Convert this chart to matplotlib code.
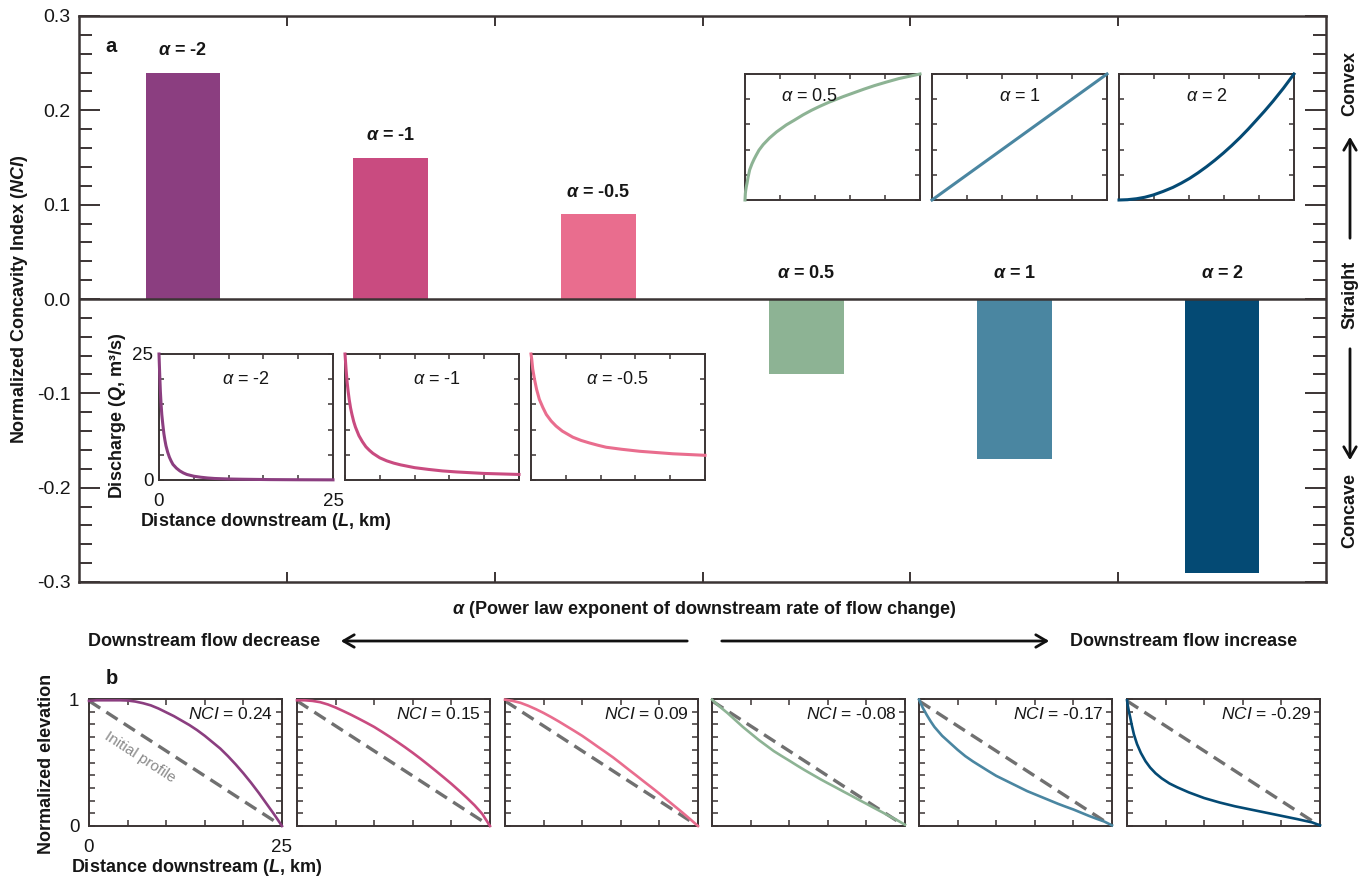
import matplotlib
matplotlib.use("Agg")
import matplotlib.pyplot as plt
from matplotlib.patches import FancyArrowPatch
from matplotlib.ticker import MultipleLocator, FixedLocator, FixedFormatter

plt.rcParams.update({
    "font.family": ["Liberation Sans", "DejaVu Sans"],
    "mathtext.fontset": "custom",
    "mathtext.rm": "Liberation Sans",
    "mathtext.it": "Liberation Sans:italic",
    "mathtext.bf": "Liberation Sans:bold",
    "mathtext.bfit": "Liberation Sans:italic:bold",
    "axes.unicode_minus": False,
})

# ---------------------------------------------------------------- data
alpha_labels = ["-2", "-1", "-0.5", "0.5", "1", "2"]
nci_values = [0.24, 0.15, 0.09, -0.08, -0.17, -0.29]
nci_labels = ["0.24", "0.15", "0.09", "-0.08", "-0.17", "-0.29"]
bar_colors = ["#8b3e80", "#c94b80", "#e96d8e", "#8db394", "#4a86a1", "#044a74"]
ytick_values = [-0.3, -0.2, -0.1, 0.0, 0.1, 0.2, 0.3]
ytick_labels = ["-0.3", "-0.2", "-0.1", "0.0", "0.1", "0.2", "0.3"]

# discharge along the channel (L in km, Q in m3/s), decreasing flow
dist_q_m2 = [0, 0.1, 0.2, 0.3, 0.4, 0.55, 0.7, 0.85, 1.0, 1.25, 1.5, 1.75, 2.0, 2.5, 3.0,
             3.5, 4.0, 5, 6, 7, 8, 10, 12, 16, 20, 25]
q_m2 = [25, 21, 17.5, 15, 13, 11, 9.2, 7.9, 6.8, 5.5, 4.5, 3.75, 3.1, 2.35, 1.8,
        1.4, 1.1, 0.75, 0.55, 0.4, 0.3, 0.2, 0.15, 0.08, 0.05, 0.03]
dist_q_m1 = [0, 0.15, 0.3, 0.45, 0.6, 0.8, 1, 1.25, 1.5, 2, 2.5, 3, 3.5, 4, 5, 6, 7, 8,
             10, 12, 14, 16, 18, 20, 22.5, 25]
q_m1 = [25, 22, 19.5, 17.6, 16, 14.3, 13, 11.6, 10.5, 8.8, 7.6, 6.6, 5.9, 5.3, 4.4, 3.8,
        3.35, 3.0, 2.45, 2.1, 1.8, 1.6, 1.45, 1.3, 1.2, 1.1]
dist_q_m05 = [0, 0.05, 0.1, 0.25, 0.5, 0.8, 1.2, 1.7, 2.2, 2.9, 3.6, 4.5, 6, 7.2, 8.4,
              9.6, 10.8, 13, 15.6, 18, 20.4, 22.7, 25]
q_m05 = [25, 24.5, 24, 22, 20, 18, 16, 14.4, 13, 11.7, 10.7, 9.7, 8.5, 7.85, 7.35,
         6.9, 6.5, 6.1, 5.7, 5.45, 5.2, 5.05, 4.9]

# discharge along the channel, increasing flow
dist_q_p05 = [0, 0.05, 0.1, 0.19, 0.3, 0.45, 0.67, 1.0, 1.3, 1.6, 2.0, 2.6, 3.5, 4.5, 5.9,
              7, 8.3, 9.5, 10.7, 12, 13, 14, 15.4, 17, 18.5, 20.2, 22, 23.5, 25]
q_p05 = [0, 1.3, 1.9, 2.65, 3.4, 4.6, 6.0, 7.2, 8.1, 8.9, 9.9, 11.0, 12.3, 13.5, 14.9,
         15.8, 16.9, 17.8, 18.6, 19.4, 19.95, 20.5, 21.2, 22.0, 22.7, 23.4, 24.1, 24.55, 25]
dist_q_p1 = [0, 25]
q_p1 = [0, 25]
dist_q_p2 = [0, 1.2, 2.5, 3.7, 4.9, 6.3, 7.7, 8.9, 10.1, 11.3, 12.5, 13.7, 14.9, 16.1,
             17.3, 18.45, 19.6, 20.8, 22, 23.5, 25]
q_p2 = [0, 0.06, 0.25, 0.55, 1.0, 1.7, 2.5, 3.35, 4.3, 5.4, 6.6, 7.9, 9.3, 10.8,
        12.4, 14.05, 15.8, 17.65, 19.6, 22.2, 25]

# normalized elevation profiles (L in km)
dist_km = [0, 1, 2, 3, 4, 5, 6, 7, 8, 9, 10, 11, 12, 13, 14, 15, 16, 17, 18, 19, 20,
           21, 22, 23, 24, 25]
z_m2 = [0.985, 0.99, 0.99, 0.99, 0.99, 0.988, 0.98, 0.967, 0.95, 0.925, 0.895, 0.865,
        0.83, 0.795, 0.755, 0.71, 0.66, 0.61, 0.55, 0.485, 0.415, 0.34, 0.26, 0.175, 0.09, 0.0]
z_m1 = [0.99, 0.99, 0.985, 0.975, 0.957, 0.933, 0.905, 0.876, 0.845, 0.813, 0.78, 0.742,
        0.703, 0.662, 0.62, 0.576, 0.53, 0.482, 0.433, 0.383, 0.332, 0.278, 0.222, 0.163,
        0.095, 0.0]
z_m05 = [0.995, 0.985, 0.97, 0.947, 0.92, 0.89, 0.857, 0.822, 0.785, 0.748, 0.71, 0.668,
         0.625, 0.583, 0.54, 0.493, 0.445, 0.398, 0.35, 0.303, 0.255, 0.205, 0.155, 0.105,
         0.053, 0.0]
z_p05 = [0.995, 0.94, 0.89, 0.835, 0.78, 0.73, 0.68, 0.635, 0.59, 0.552, 0.515, 0.477,
         0.44, 0.405, 0.37, 0.337, 0.305, 0.272, 0.24, 0.207, 0.175, 0.142, 0.11, 0.077,
         0.045, 0.01]
dist_z_p1 = [0, 0.5, 1, 1.5, 2, 3, 4, 5, 6, 7, 8, 9, 10, 11, 12, 13, 14, 15, 16, 17, 18,
             19, 20, 21, 22, 23, 24, 25]
z_p1 = [0.995, 0.93, 0.875, 0.825, 0.78, 0.71, 0.655, 0.6, 0.55, 0.508, 0.47, 0.432,
        0.395, 0.365, 0.335, 0.305, 0.275, 0.25, 0.225, 0.2, 0.175, 0.152, 0.13, 0.105,
        0.08, 0.057, 0.035, 0.005]
dist_z_p2 = [0, 0.1, 0.25, 0.4, 0.6, 0.9, 1.3, 1.8, 2.4, 3, 3.7, 4.5, 5.5, 6.5, 8, 10,
             12, 14, 16, 18, 20, 22, 24, 25]
z_p2 = [0.99, 0.95, 0.9, 0.86, 0.8, 0.72, 0.645, 0.575, 0.51, 0.46, 0.415, 0.375, 0.335,
        0.305, 0.265, 0.22, 0.185, 0.155, 0.13, 0.105, 0.08, 0.055, 0.028, 0.005]

initial_dist = [0, 25]
initial_elev = [0.985, 0.0]

q_decrease = [(dist_q_m2, q_m2), (dist_q_m1, q_m1), (dist_q_m05, q_m05)]
q_increase = [(dist_q_p05, q_p05), (dist_q_p1, q_p1), (dist_q_p2, q_p2)]
profiles = [(dist_km, z_m2), (dist_km, z_m1), (dist_km, z_m05),
            (dist_km, z_p05), (dist_z_p1, z_p1), (dist_z_p2, z_p2)]

km_ticks = [0, 5, 10, 15, 20, 25]
km_labels = ["0", "", "", "", "", "25"]
q_ticks = [0, 5, 10, 15, 20, 25]
q_labels = ["0", "", "", "", "", "25"]
z_ticks = [0, 0.1, 0.2, 0.3, 0.4, 0.5, 0.6, 0.7, 0.8, 0.9, 1.0]
z_labels = ["0", "", "", "", "", "", "", "", "", "", "1"]

# ---------------------------------------------------------------- figure
W, H = 1372, 881
INK = "#3b3434"
TXT = "#161616"

fig = plt.figure(figsize=(W / 100, H / 100), dpi=100)


def rect(left, top, right, bottom):
    """Axes rectangle from pixel edges measured from the top-left corner."""
    return [left / W, 1 - bottom / H, (right - left) / W, (bottom - top) / H]


def fx(x):
    return x / W


def fy(y):
    return 1 - y / H


def alpha_text(value, bold):
    if bold:
        return r"$\mathbfit{\alpha}$ = " + value
    return r"$\alpha$ = " + value


# ------------------------------------------------ panel a: bar chart
ax = fig.add_axes(rect(79, 16, 1326, 582))
positions = [i + 0.5 for i in range(len(nci_values))]
ax.bar(positions, nci_values, width=0.36, color=bar_colors, linewidth=0, zorder=2)
ax.axhline(0, color=INK, lw=1.8, zorder=3)
ax.set_xlim(0, 6)
ax.set_ylim(-0.3, 0.3)
ax.set_xticks([1, 2, 3, 4, 5])
ax.set_xticklabels([])
ax.yaxis.set_major_locator(FixedLocator(ytick_values))
ax.yaxis.set_major_formatter(FixedFormatter(ytick_labels))
ax.yaxis.set_minor_locator(MultipleLocator(0.02))
ax.tick_params(axis="y", which="major", direction="in", length=15, width=1.4,
               left=True, right=True, labelsize=14, pad=6, color=INK, labelcolor=TXT)
ax.tick_params(axis="y", which="minor", direction="in", length=9.5, width=1.4,
               left=True, right=True, color=INK)
ax.tick_params(axis="x", which="major", direction="in", length=7.5, width=1.4,
               top=True, bottom=True, color=INK)
for s in ax.spines.values():
    s.set_color(INK)
    s.set_linewidth(1.8)

for xpos, val, lab in zip(positions, nci_values, alpha_labels):
    base = val if val > 0 else 0.0
    off = 15.8 if val > 0 else 18.7
    ax.annotate(alpha_text(lab, True), (xpos, base), xytext=(0, off),
                textcoords="offset points", ha="center", va="center",
                fontsize=13, fontweight="bold", color=TXT)

ax.text(32 / 1247, 1 - 31 / 566, "a", transform=ax.transAxes, fontsize=14.5,
        fontweight="bold", color=TXT, ha="center", va="center")

fig.text(fx(20), fy(299), r"Normalized Concavity Index ($\mathbfit{NCI}$)",
         rotation=90, ha="center", va="center", fontsize=13, fontweight="bold", color=TXT)

# right-hand annotation: convex / straight / concave
for label, yc in [("Convex", 84), ("Straight", 295), ("Concave", 511)]:
    fig.text(fx(1350), fy(yc), label, rotation=90, ha="center", va="center",
             fontsize=13, fontweight="bold", color=TXT)


def fig_arrow(p0, p1):
    arr = FancyArrowPatch((fx(p0[0]), fy(p0[1])), (fx(p1[0]), fy(p1[1])),
                          transform=fig.transFigure,
                          arrowstyle="->,head_length=0.55,head_width=0.32",
                          mutation_scale=14, lw=2.0, color="#111111")
    fig.add_artist(arr)


fig_arrow((1350, 241), (1350, 134))
fig_arrow((1350, 346), (1350, 463))


# ------------------------------------------------ small panels
def style_small(a, ymax, yticks, ticklen=3.5):
    a.set_xlim(0, 25)
    a.set_ylim(0, ymax)
    a.xaxis.set_major_locator(FixedLocator(km_ticks))
    a.yaxis.set_major_locator(FixedLocator(yticks))
    a.tick_params(direction="in", length=ticklen, width=1.1, top=True, right=True,
                  labelleft=False, labelbottom=False, color=INK, labelcolor=TXT)
    for s in a.spines.values():
        s.set_color(INK)
        s.set_linewidth(1.4)
    a.set_facecolor("white")


low_lefts = [159, 345, 531]
low_text_x = [0.5, 0.53, 0.5]
for i, (left, (d, q)) in enumerate(zip(low_lefts, q_decrease)):
    a = fig.add_axes(rect(left, 354, left + 174, 480))
    style_small(a, 25, q_ticks)
    a.plot(d, q, color=bar_colors[i], lw=2.2, clip_on=False, solid_joinstyle="round", zorder=3)
    a.text(low_text_x[i], 0.8, alpha_text(alpha_labels[i], False), transform=a.transAxes,
           ha="center", va="center", fontsize=13, color=TXT)
    if i == 0:
        a.xaxis.set_major_formatter(FixedFormatter(km_labels))
        a.yaxis.set_major_formatter(FixedFormatter(q_labels))
        a.tick_params(axis="x", labelbottom=True, labelsize=13.5, pad=9)
        a.tick_params(axis="y", labelleft=True, labelsize=13.5, pad=4)

fig.text(fx(118), fy(416), r"Discharge ($\mathbfit{Q}$, m³/s)", rotation=90,
         ha="center", va="center", fontsize=13, fontweight="bold", color=TXT)
fig.text(fx(266), fy(522), r"Distance downstream ($\mathbfit{L}$, km)",
         ha="center", va="center", fontsize=13, fontweight="bold", color=TXT)

up_lefts = [745, 932, 1119]
up_text_x = [0.37, 0.5, 0.5]
for i, (left, (d, q)) in enumerate(zip(up_lefts, q_increase)):
    a = fig.add_axes(rect(left, 74, left + 175, 200))
    style_small(a, 25, q_ticks)
    a.plot(d, q, color=bar_colors[i + 3], lw=2.2, clip_on=False, solid_joinstyle="round", zorder=3)
    a.text(up_text_x[i], 0.82, alpha_text(alpha_labels[i + 3], False), transform=a.transAxes,
           ha="center", va="center", fontsize=13, color=TXT)

# ------------------------------------------------ middle axis title and arrows
fig.text(fx(704), fy(609),
         r"$\mathbfit{\alpha}$ (Power law exponent of downstream rate of flow change)",
         ha="center", va="center", fontsize=13, fontweight="bold", color=TXT)
fig.text(fx(88), fy(641), "Downstream flow decrease", ha="left", va="center",
         fontsize=13, fontweight="bold", color=TXT)
fig.text(fx(1297), fy(641), "Downstream flow increase", ha="right", va="center",
         fontsize=13, fontweight="bold", color=TXT)
fig_arrow((690, 641), (338, 641))
fig_arrow((719, 641), (1052, 641))

# ------------------------------------------------ panel b: elevation profiles
b_lefts = [89, 297, 505, 712, 919, 1127]
for i, (left, (d, z)) in enumerate(zip(b_lefts, profiles)):
    a = fig.add_axes(rect(left, 699, left + 193, 826))
    style_small(a, 1, z_ticks, ticklen=4)
    a.plot(initial_dist, initial_elev, color="#707070", lw=2.4, dashes=(4, 2.2), zorder=2)
    a.plot(d, z, color=bar_colors[i], lw=1.9, clip_on=False, solid_joinstyle="round", zorder=3)
    a.text(0.955, 0.88, r"$\mathit{NCI}$ = " + nci_labels[i], transform=a.transAxes,
           ha="right", va="center", fontsize=12.5, color=TXT)
    if i == 0:
        a.xaxis.set_major_formatter(FixedFormatter(km_labels))
        a.yaxis.set_major_formatter(FixedFormatter(z_labels))
        a.tick_params(axis="x", labelbottom=True, labelsize=13.5, pad=9)
        a.tick_params(axis="y", labelleft=True, labelsize=13.5, pad=7)

fig.text(fx(140), fy(757), "Initial profile", rotation=-33, rotation_mode="anchor",
         ha="center", va="center", fontsize=11, color="#8a8a8a")
fig.text(fx(112), fy(678), "b", ha="center", va="center", fontsize=14.5,
         fontweight="bold", color=TXT)
fig.text(fx(47), fy(764), "Normalized elevation", rotation=90, ha="center", va="center",
         fontsize=13, fontweight="bold", color=TXT)
fig.text(fx(197), fy(868), r"Distance downstream ($\mathbfit{L}$, km)",
         ha="center", va="center", fontsize=13, fontweight="bold", color=TXT)

fig.savefig("out.png", dpi=100, facecolor="white")
